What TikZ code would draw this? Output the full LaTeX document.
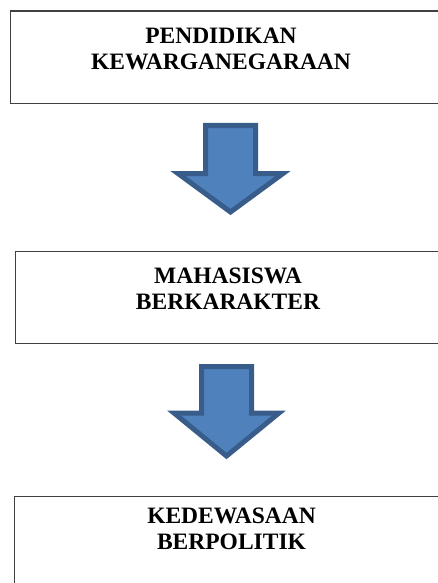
\documentclass[tikz,border=0pt]{standalone}
\usepackage{fontspec}
\setmainfont{Liberation Serif}
\definecolor{arrowfill}{HTML}{4F81BD}
\definecolor{arrowdraw}{HTML}{385D8A}
\definecolor{boxline}{HTML}{404040}
\begin{document}
\begin{tikzpicture}[x=1pt,y=-1pt,
  box/.style={draw=boxline,line width=1.4pt,inner sep=0pt,anchor=north west},
  label/.style={align=center,inner sep=0pt,font=\fontsize{23.5}{26}\selectfont\bfseries},
  blockarrow/.style={fill=arrowfill,draw=arrowdraw,line width=5pt,line join=miter}]
\useasboundingbox (0,0) rectangle (438,583);
\node[box,minimum width=440pt,minimum height=92.5pt] (b1) at (10,10.5) {};
\node[box,minimum width=440pt,minimum height=92pt] (b2) at (15,251) {};
\node[box,minimum width=440pt,minimum height=110pt] (b3) at (14,496) {};
\node[label] (t1) at (221,48.5) {PENDIDIKAN\\KEWARGANEGARAAN};
\node[label] (t2) at (228,288.5) {MAHASISWA\\BERKARAKTER};
\node[label] (t3) at (231.5,528.5) {KEDEWASAAN\\BERPOLITIK};
\draw[blockarrow] (205.5,125.5) -- (255.5,125.5) -- (255.5,173.5) -- (283,173.5) -- (230.5,212) -- (178,173.5) -- (205.5,173.5) -- cycle;
\draw[blockarrow] (201.5,366.5) -- (251.5,366.5) -- (251.5,413) -- (279,413) -- (226.5,456) -- (174,413) -- (201.5,413) -- cycle;
\end{tikzpicture}
\end{document}
